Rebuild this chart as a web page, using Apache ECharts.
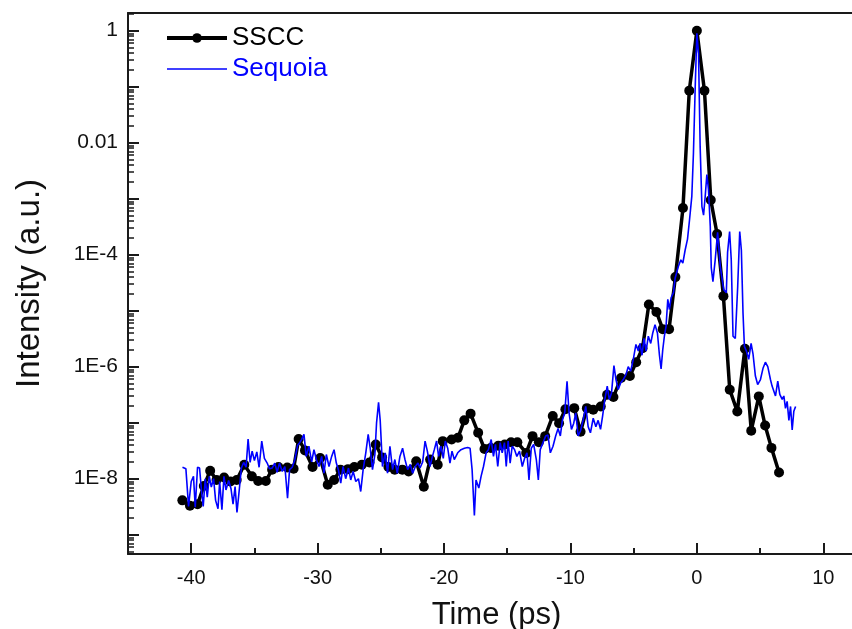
<!DOCTYPE html>
<html>
<head>
<meta charset="utf-8">
<script src="https://cdn.jsdelivr.net/npm/echarts@6/dist/echarts.min.js"></script>
<style>
html,body{margin:0;padding:0;background:#fff;}
#c{width:852px;height:629px;}
</style>
</head>
<body>
<div id="c"></div>
<script>
// SSCC measurement (time in ps, intensity in a.u.)
const ssccTime = [-40.7,-40.1,-39.5,-39.0,-38.5,-38.0,-37.4,-36.9,-36.4,-35.8,-35.2,-34.7,-34.1,-33.6,-33.1,-32.4,-31.9,-31.5,-31.0,-30.4,-29.8,-29.2,-28.7,-28.2,-27.6,-27.1,-26.5,-25.9,-25.4,-24.9,-24.4,-23.9,-23.3,-22.8,-22.2,-21.6,-21.1,-20.5,-20.1,-19.4,-18.9,-18.4,-17.9,-17.3,-16.8,-16.3,-15.7,-15.2,-14.7,-14.2,-13.5,-13.0,-12.5,-12.0,-11.4,-10.9,-10.4,-9.7,-9.2,-8.7,-8.2,-7.6,-7.1,-6.6,-6.0,-5.3,-4.8,-4.3,-3.8,-3.2,-2.7,-2.2,-1.7,-1.1,-0.6,0.0,0.6,1.1,1.6,2.1,2.6,3.2,3.8,4.3,4.9,5.4,5.9,6.5];
const ssccIntensity = [4.1e-9,3.3e-9,3.5e-9,7.4e-9,1.38e-8,9.5e-9,1.05e-8,8.9e-9,9.5e-9,1.78e-8,1.1e-8,9.1e-9,9.1e-9,1.45e-8,1.62e-8,1.58e-8,1.51e-8,5.1e-8,3.2e-8,1.62e-8,2.34e-8,7.8e-9,9.5e-9,1.45e-8,1.48e-8,1.62e-8,1.78e-8,1.95e-8,4.07e-8,2.4e-8,1.62e-8,1.45e-8,1.45e-8,1.35e-8,2.04e-8,7.2e-9,2.19e-8,1.78e-8,4.68e-8,5.0e-8,5.37e-8,1.1e-7,1.45e-7,6.6e-8,3.39e-8,3.55e-8,3.89e-8,4.07e-8,4.47e-8,4.47e-8,2.88e-8,5.75e-8,4.47e-8,5.75e-8,1.32e-7,9.8e-8,1.74e-7,1.82e-7,6.9e-8,1.82e-7,1.7e-7,1.95e-7,3.16e-7,2.88e-7,6.3e-7,6.8e-7,1.2e-6,2.14e-6,1.29e-5,9.5e-6,4.68e-6,4.68e-6,3.98e-5,6.8e-4,0.085,1.0,0.085,9.5e-4,2.34e-4,1.82e-5,3.89e-7,1.58e-7,2.09e-6,7.2e-8,2.95e-7,8.9e-8,3.55e-8,1.29e-8];

// Sequoia measurement (time in ps, intensity in a.u.)
const sequoiaTime = [-40.69,-40.42,-40.21,-40.00,-39.82,-39.68,-39.50,-39.34,-39.18,-39.05,-38.89,-38.73,-38.57,-38.41,-38.23,-38.07,-37.88,-37.75,-37.57,-37.41,-37.25,-37.04,-36.85,-36.69,-36.53,-36.38,-36.19,-36.03,-35.85,-35.66,-35.50,-35.34,-35.18,-35.00,-34.81,-34.63,-34.42,-34.21,-33.99,-33.81,-33.60,-33.39,-33.20,-33.02,-32.80,-32.59,-32.38,-32.22,-32.01,-31.80,-31.59,-31.42,-31.27,-31.08,-30.90,-30.69,-30.47,-30.29,-30.10,-29.89,-29.68,-29.50,-29.31,-29.10,-28.89,-28.70,-28.52,-28.36,-28.17,-27.99,-27.78,-27.56,-27.38,-27.19,-26.98,-26.77,-26.59,-26.40,-26.19,-26.00,-25.84,-25.66,-25.47,-25.34,-25.18,-25.05,-24.87,-24.65,-24.47,-24.28,-24.07,-23.89,-23.70,-23.49,-23.28,-23.09,-22.88,-22.67,-22.48,-22.27,-22.06,-21.90,-21.69,-21.50,-21.32,-21.11,-20.96,-20.77,-20.59,-20.43,-20.24,-20.06,-19.90,-19.71,-19.53,-19.37,-19.19,-18.92,-18.66,-18.39,-18.13,-17.94,-17.78,-17.60,-17.47,-17.25,-17.07,-16.88,-16.67,-16.49,-16.27,-16.09,-15.93,-15.75,-15.56,-15.40,-15.22,-15.08,-14.93,-14.77,-14.61,-14.42,-14.24,-14.03,-13.81,-13.63,-13.44,-13.28,-13.10,-12.91,-12.70,-12.54,-12.39,-12.17,-11.96,-11.78,-11.59,-11.38,-11.17,-10.98,-10.80,-10.64,-10.45,-10.27,-10.11,-9.92,-9.74,-9.58,-9.39,-9.21,-9.00,-8.79,-8.60,-8.42,-8.20,-7.99,-7.81,-7.62,-7.46,-7.28,-7.09,-6.93,-6.75,-6.56,-6.40,-6.22,-6.03,-5.82,-5.61,-5.43,-5.24,-5.03,-4.82,-4.63,-4.50,-4.34,-4.18,-4.02,-3.84,-3.65,-3.49,-3.31,-3.12,-2.96,-2.83,-2.70,-2.57,-2.44,-2.30,-2.17,-2.04,-1.85,-1.72,-1.46,-1.27,-1.11,-0.93,-0.74,-0.58,-0.40,-0.27,-0.13,0.00,0.13,0.26,0.40,0.53,0.66,0.79,0.92,1.06,1.14,1.27,1.45,1.64,1.85,2.12,2.33,2.43,2.59,2.72,2.86,3.04,3.23,3.39,3.52,3.65,3.76,3.92,4.10,4.29,4.44,4.63,4.81,5.03,5.24,5.42,5.61,5.82,5.95,6.09,6.22,6.40,6.56,6.75,6.88,7.01,7.14,7.28,7.41,7.54,7.67,7.81];
const sequoiaIntensity = [1.6e-8,1.5e-8,3.2e-9,8.9e-9,1.1e-8,3.1e-9,1.6e-8,1.55e-8,5.9e-9,3.2e-9,1.0e-8,4.7e-9,1.1e-8,7.1e-9,1.0e-8,4.1e-9,2.9e-9,8.9e-9,2.8e-9,1.1e-8,6.3e-9,9.3e-9,6.6e-9,3.5e-9,7.2e-9,2.5e-9,6.6e-9,1.55e-8,1.95e-8,1.6e-8,5.1e-8,1.95e-8,3.1e-8,2.1e-8,3.0e-8,1.6e-8,4.7e-8,2.3e-8,1.9e-8,1.5e-8,1.55e-8,1.9e-8,1.3e-8,1.9e-8,1.35e-8,1.65e-8,4.5e-9,1.45e-8,1.6e-8,2.2e-8,3.9e-8,4.4e-8,5.0e-8,6.2e-8,2.5e-8,3.8e-8,2.0e-8,3.3e-8,2.2e-8,1.65e-8,2.5e-8,1.25e-8,2.7e-8,1.65e-8,2.5e-8,3.3e-8,1.9e-8,1.45e-8,8.3e-9,1.65e-8,1.0e-8,1.55e-8,9.5e-9,1.35e-8,8.9e-9,1.0e-8,5.9e-9,1.45e-8,2.9e-8,6.2e-8,3.5e-8,1.45e-8,2.7e-8,9.8e-8,2.3e-7,1.1e-7,1.65e-8,2.9e-8,1.25e-8,3.8e-8,1.45e-8,2.2e-8,1.25e-8,2.5e-8,3.5e-8,2.2e-8,1.45e-8,1.8e-8,1.25e-8,1.65e-8,1.9e-8,1.55e-8,2.0e-8,4.7e-8,3.1e-8,1.65e-8,2.3e-8,3.3e-8,4.7e-8,2.5e-8,3.8e-8,2.3e-8,4.7e-8,3.5e-8,1.9e-8,3.1e-8,2.2e-8,2.9e-8,3.3e-8,3.5e-8,3.6e-8,3.5e-8,1.45e-8,2.2e-9,9.5e-9,6.8e-9,1.1e-8,1.65e-8,2.9e-8,3.3e-8,5.0e-8,2.5e-8,4.1e-8,1.65e-8,4.4e-8,2.9e-8,4.4e-8,1.65e-8,4.7e-8,1.9e-8,3.8e-8,3.3e-8,2.5e-8,3.1e-8,1.65e-8,2.3e-8,2.9e-8,9.5e-9,3.5e-8,4.1e-8,2.2e-8,9.5e-9,3.3e-8,4.4e-8,5.8e-8,6.0e-8,2.9e-8,3.8e-8,5.8e-8,7.9e-8,5.8e-8,1.1e-7,1.5e-7,5.5e-7,1.5e-7,7.6e-8,9.8e-8,1.5e-7,5.8e-8,7.1e-8,1.1e-7,1.95e-7,8.5e-8,6.6e-8,1.2e-7,8.5e-8,1.1e-7,7.6e-8,1.3e-7,2.6e-7,4.5e-7,2.6e-7,3.4e-7,1.05e-6,5.9e-7,3.9e-7,5.1e-7,5.9e-7,7.2e-7,1.0e-6,8.3e-7,1.35e-6,2.5e-6,1.9e-6,2.6e-6,1.6e-6,3.2e-6,1.9e-6,3.5e-6,2.6e-6,4.0e-6,5.6e-6,4.0e-6,1.6e-6,9.1e-7,2.0e-6,3.5e-6,5.2e-6,1.6e-5,1.05e-5,1.7e-5,2.1e-5,3.8e-5,6.2e-5,8.1e-5,7.1e-5,1.2e-4,1.9e-4,4.2e-4,1.1e-3,6.6e-3,0.10,0.9,0.4,8.5e-3,7.2e-4,5.1e-4,1.1e-3,2.7e-3,1.45e-3,3.2e-4,5.8e-5,3.3e-5,8.1e-5,2.5e-4,6.2e-5,2.4e-5,2.1e-5,1.1e-4,2.6e-4,8.1e-5,3.5e-6,3.2e-6,2.7e-5,2.6e-4,1.2e-4,9.1e-6,2.3e-6,1.9e-6,1.35e-6,2.6e-6,1.7e-6,6.8e-7,4.8e-7,5.9e-7,9.5e-7,1.2e-6,1.0e-6,5.9e-7,4.5e-7,4.8e-7,3.0e-7,5.5e-7,3.2e-7,2.6e-7,3.0e-7,1.8e-7,2.4e-7,1.1e-7,1.95e-7,7.4e-8,1.6e-7,1.95e-7];

// Axis ticks and labels
const xMajorTicks = [-40,-30,-20,-10,0,10];
const xMinorTicks = [-35,-25,-15,-5,5];
const yLabelValues = [1,0.01,1e-4,1e-6,1e-8];
const yLabelTexts = ['1','0.01','1E-4','1E-6','1E-8'];
const yDecades = [1,0.1,0.01,1e-3,1e-4,1e-5,1e-6,1e-7,1e-8,1e-9];
const seriesNames = ['SSCC','Sequoia'];

const yMinor = [];
for (const d of [1e-10,1e-9,1e-8,1e-7,1e-6,1e-5,1e-4,1e-3,1e-2,1e-1,1]) {
  for (let k = 2; k <= 9; k++) yMinor.push(+(k*d).toPrecision(3));
}

const ssccData = ssccTime.map((t,i)=>[t, ssccIntensity[i]]);
const seqData = sequoiaTime.map((t,i)=>[t, sequoiaIntensity[i]]);

const X_MIN = -45, X_MAX = 13.3, Y_MIN = 4.52e-10, Y_MAX = 2.07;
const axisColor = '#1a1a1a';
const font = 'Liberation Sans, Arial, sans-serif';

function yFmt(v){
  for (let i=0;i<yLabelValues.length;i++){
    if (Math.abs(Math.log10(v) - Math.log10(yLabelValues[i])) < 1e-6) return yLabelTexts[i];
  }
  return '';
}

const chart = echarts.init(document.getElementById('c'), null, {renderer:'canvas'});
chart.setOption({
  animation:false,
  backgroundColor:'#fff',
  grid:{left:128, top:13, width:737, height:541, outerBoundsMode:'none', containLabel:false, show:false},
  legend:{
    orient:'vertical', left:165, top:25, padding:0, itemWidth:60, itemHeight:12, itemGap:5,
    textStyle:{fontFamily:font, fontSize:26},
    data:[
      {name:seriesNames[0], textStyle:{color:'#000'}, lineStyle:{width:4, color:'#000'}},
      {name:seriesNames[1], textStyle:{color:'#0000ff'}, itemStyle:{opacity:0}, lineStyle:{width:1.6, color:'#0000ff'}}
    ]
  },
  xAxis:[{
    type:'value', min:X_MIN, max:X_MAX, position:'bottom',
    name:'Time (ps)', nameLocation:'middle', nameGap:46,
    nameTextStyle:{fontFamily:font, fontSize:31, color:'#111'},
    axisLine:{show:true, onZero:false, lineStyle:{color:axisColor, width:2}},
    axisTick:{show:true, inside:true, length:11, customValues:xMajorTicks, lineStyle:{color:axisColor, width:2}},
    axisLabel:{show:true, customValues:xMajorTicks, margin:14, fontFamily:font, fontSize:20, color:'#111'},
    splitLine:{show:false}
  },{
    type:'value', min:X_MIN, max:X_MAX, position:'bottom',
    axisLine:{show:false, onZero:false},
    axisTick:{show:true, inside:true, length:6, customValues:xMinorTicks, lineStyle:{color:axisColor, width:2}},
    axisLabel:{show:false},
    splitLine:{show:false}
  },{
    type:'value', min:X_MIN, max:X_MAX, position:'top',
    axisLine:{show:true, onZero:false, lineStyle:{color:axisColor, width:2}},
    axisTick:{show:false},
    axisLabel:{show:false},
    splitLine:{show:false}
  }],
  yAxis:[{
    type:'log', logBase:10, min:Y_MIN, max:Y_MAX, position:'left',
    name:'Intensity (a.u.)', nameLocation:'middle', nameGap:82,
    nameTextStyle:{fontFamily:font, fontSize:33, color:'#111'},
    axisLine:{show:true, onZero:false, lineStyle:{color:axisColor, width:2}},
    axisTick:{show:true, inside:true, length:11, customValues:yDecades, lineStyle:{color:axisColor, width:2}},
    axisLabel:{show:true, customValues:yLabelValues, formatter:yFmt, margin:10, fontFamily:font, fontSize:21, color:'#111'},
    splitLine:{show:false}
  },{
    type:'log', logBase:10, min:Y_MIN, max:Y_MAX, position:'left',
    axisLine:{show:false, onZero:false},
    axisTick:{show:true, inside:true, length:6, customValues:yMinor.filter(v=>v>Y_MIN && v<Y_MAX), lineStyle:{color:axisColor, width:1.5}},
    axisLabel:{show:false},
    splitLine:{show:false}
  }],
  series:[{
    name:seriesNames[0], type:'line', xAxisIndex:0, yAxisIndex:0, data:ssccData,
    symbol:'circle', symbolSize:10, showSymbol:true,
    lineStyle:{color:'#000', width:3.5}, itemStyle:{color:'#000'}, z:2
  },{
    name:seriesNames[1], type:'line', xAxisIndex:0, yAxisIndex:0, data:seqData,
    symbol:'none', showSymbol:false,
    lineStyle:{color:'#0000ff', width:1.6}, itemStyle:{color:'#0000ff'}, z:3
  }]
});
</script>
</body>
</html>
